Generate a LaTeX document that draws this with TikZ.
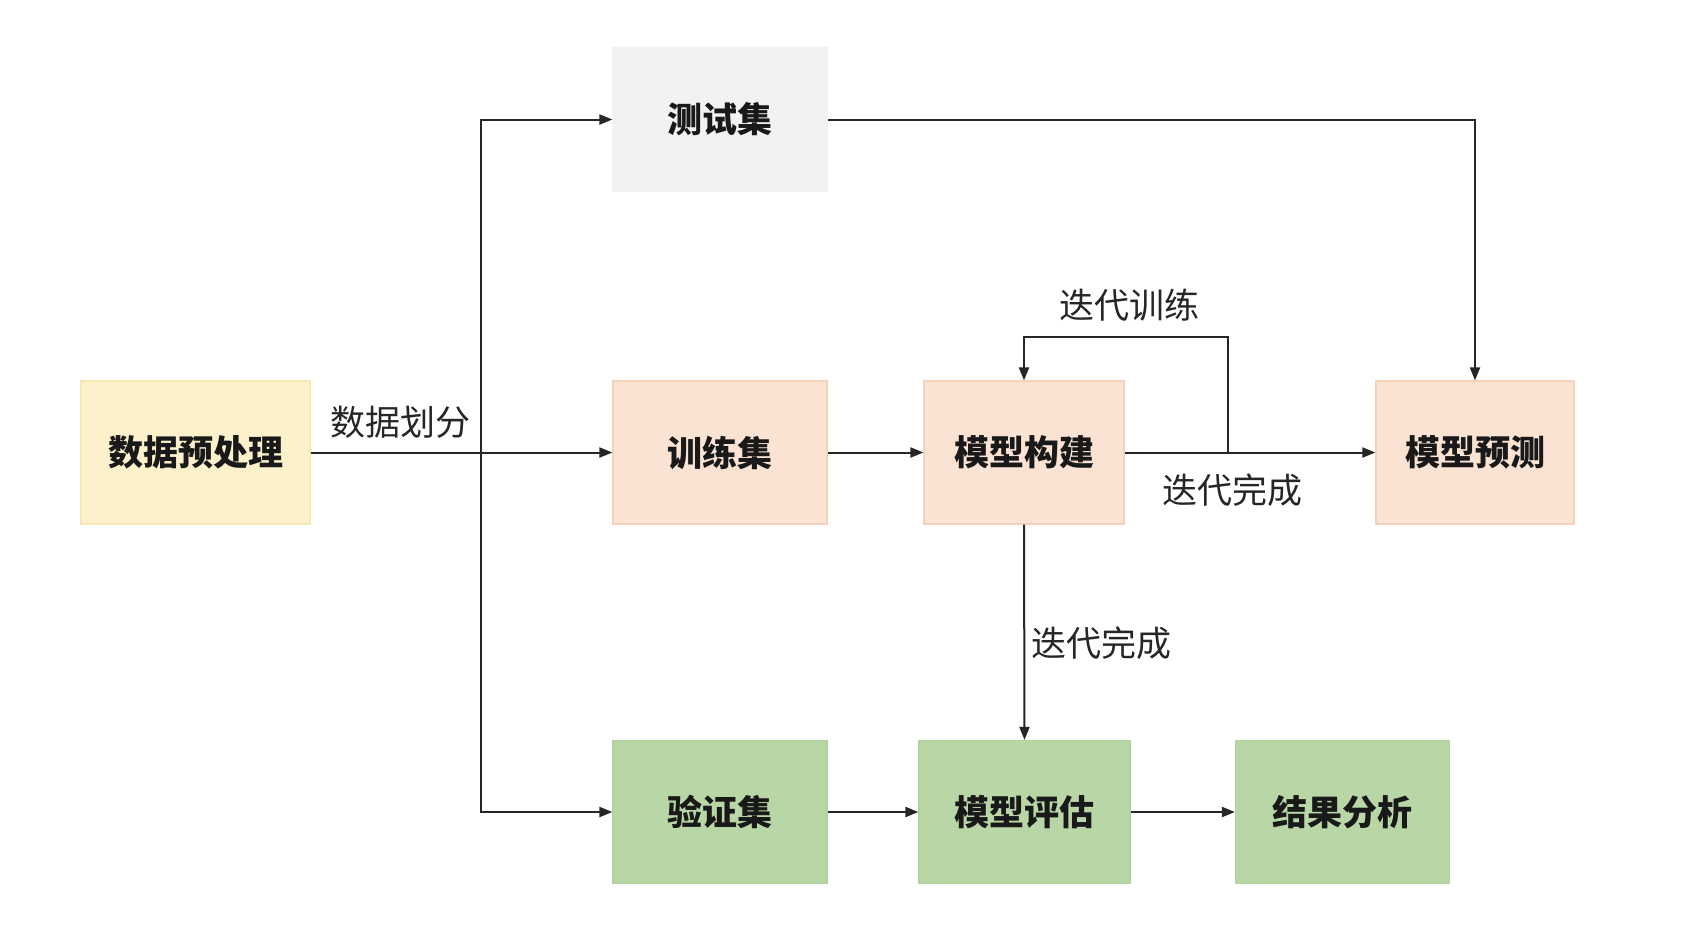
\documentclass[tikz,border=0pt]{standalone}
\usepackage{fontspec}
\newfontfamily\cjk{Noto Sans CJK SC}
\usetikzlibrary{arrows.meta}
\definecolor{yelfill}{HTML}{FDF1CB}
\definecolor{yelline}{HTML}{F8E6B4}
\definecolor{orafill}{HTML}{FAE3D3}
\definecolor{oraline}{HTML}{F5D3BB}
\definecolor{grafill}{HTML}{F2F2F2}
\definecolor{grefill}{HTML}{B9D7A6}
\definecolor{greline}{HTML}{B0D29C}
\tikzset{
  box/.style={rectangle, minimum height=71.5pt, inner sep=0pt, line width=0.6pt,
    font=\cjk\bfseries\fontsize{17.5pt}{20pt}\selectfont, text=black!90},
  yelbox/.style={box, fill=yelfill, draw=yelline},
  orabox/.style={box, fill=orafill, draw=oraline},
  grabox/.style={box, fill=grafill, draw=grafill},
  grebox/.style={box, fill=grefill, draw=greline},
  conn/.style={line width=1pt, draw=black!85, -{Triangle[length=6.5pt,width=5pt]}},
  lbl/.style={font=\cjk\fontsize{17.5pt}{20pt}\selectfont, text=black!85, inner sep=0pt}
}
\begin{document}
\begin{tikzpicture}[x=0.5pt,y=-0.5pt]
\useasboundingbox[fill=white] (0,0) rectangle (1699,934);
\node[yelbox, minimum width=114.5pt] (pre) at (195.5,452.5) {数据预处理};
\node[grabox, minimum width=107pt] (test) at (720,119.5) {测试集};
\node[orabox, minimum width=107pt] (train) at (720,452.5) {训练集};
\node[orabox, minimum width=100pt] (build) at (1024,452.5) {模型构建};
\node[orabox, minimum width=99pt] (pred) at (1475,452.5) {模型预测};
\node[grebox, minimum width=107pt] (val) at (720,812) {验证集};
\node[grebox, minimum width=105.5pt] (eval) at (1024.5,812) {模型评估};
\node[grebox, minimum width=107pt] (res) at (1342.5,812) {结果分析};
\coordinate (split) at (481,452.5);
\coordinate (loop) at (1228,337);
% edges
\draw[conn] (pre.east) -- (train.west);
\draw[conn] (pre.east) -- (split) |- (test.west);
\draw[conn] (pre.east) -- (split) |- (val.west);
\draw[conn] (test.east) -| (pred.north);
\draw[conn] (train.east) -- (build.west);
\draw[conn] (build.east) -- (pred.west);
\draw[conn] (build.east) -| (loop) -| (build.north);
\draw[conn] (build.south) -- (eval.north);
\draw[conn] (val.east) -- (eval.west);
\draw[conn] (eval.east) -- (res.west);
% labels
\node[lbl] (l1) at (400,422) {数据划分};
\node[lbl] (l2) at (1129,305) {迭代训练};
\node[lbl] (l3) at (1232,490) {迭代完成};
\node[lbl, anchor=west] (l4) at (1031,643) {迭代完成};
\end{tikzpicture}
\end{document}
